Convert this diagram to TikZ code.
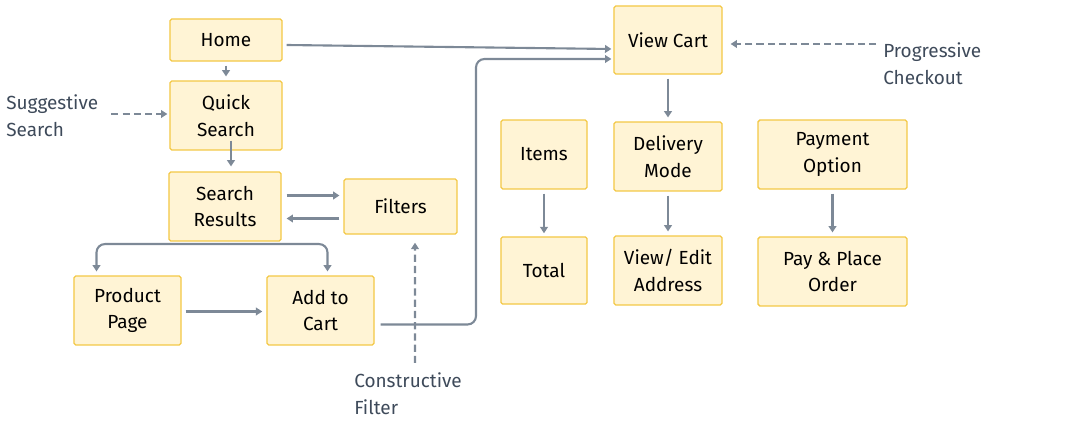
\documentclass[tikz,border=0pt]{standalone}
\usepackage{fontspec}
\setmainfont{Fira Sans}
\usetikzlibrary{arrows.meta}

\definecolor{boxfill}{HTML}{FFF4D5}
\definecolor{boxline}{HTML}{F3C845}
\definecolor{flowline}{HTML}{7D8997}
\definecolor{notetext}{HTML}{3E4A5A}

\begin{document}
\begin{tikzpicture}[
  x=0.025cm, y=-0.025cm,
  font=\fontsize{13.5}{19}\selectfont,
  >={Triangle[length=4.5pt,width=5.5pt]},
  % screen boxes
  screen/.style={
    draw=boxline, fill=boxfill, line width=0.9pt,
    rounded corners=1.2pt, align=center, inner sep=0pt
  },
  flow/.style={->, draw=flowline, line width=1.5pt, rounded corners=6pt},
  hint/.style={flow, dashed, dash pattern=on 5pt off 3pt},
  note/.style={align=left, text=notetext, anchor=west, inner sep=0pt},
]

% fix canvas to reference size
\useasboundingbox (0,0) rectangle (1081,426);

% ---------------------------------------------------------------
% Browse column
% ---------------------------------------------------------------
\node[screen, minimum width=2.8cm, minimum height=1.05cm]
  (home) at (226,40) {Home};
\node[screen, minimum width=2.8cm, minimum height=1.72cm]
  (quick) at (226,115.5) {Quick\\Search};
\node[screen, minimum width=2.8cm, minimum height=1.72cm]
  (results) at (225,206.5) {Search\\Results};
\node[screen, minimum width=2.82cm, minimum height=1.38cm]
  (filters) at (400.5,206.5) {Filters};
\node[screen, minimum width=2.68cm, minimum height=1.72cm]
  (product) at (127.5,310.5) {Product\\Page};
\node[screen, minimum width=2.68cm, minimum height=1.72cm]
  (addcart) at (320.5,310.5) {Add to\\Cart};

% ---------------------------------------------------------------
% Checkout columns
% ---------------------------------------------------------------
\node[screen, minimum width=2.7cm, minimum height=1.7cm]
  (viewcart) at (668,40) {View Cart};
\node[screen, minimum width=2.15cm, minimum height=1.72cm]
  (items) at (544,154.5) {Items};
\node[screen, minimum width=2.15cm, minimum height=1.68cm]
  (total) at (544,270.5) {Total};
\node[screen, minimum width=2.7cm, minimum height=1.72cm]
  (delivery) at (668,156.5) {Delivery\\Mode};
\node[screen, minimum width=2.7cm, minimum height=1.72cm]
  (address) at (668,270.5) {View/ Edit\\Address};
\node[screen, minimum width=3.72cm, minimum height=1.72cm]
  (payment) at (832.5,154.5) {Payment\\Option};
\node[screen, minimum width=3.72cm, minimum height=1.72cm]
  (placeorder) at (832.5,271.5) {Pay \& Place\\Order};

% --- side notes ---
\node[note] (suggest) at (6,116) {Suggestive\\Search};
\node[note] (progress) at (883,64) {Progressive\\Checkout};
\node[note] (construct) at (354,394) {Constructive\\Filter};
\coordinate (constructtip) at (415,363);

% ---------------------------------------------------------------
% Connectors (shifts in picture units)
% ---------------------------------------------------------------
\draw[flow] ([shift={(4,5)}]home.east) -- ([shift={(-2,9)}]viewcart.west);
\draw[flow] ([shift={(0,4)}]home.south) -- ([shift={(0,-4)}]quick.north);
\draw[flow] ([shift={(5,-10)}]quick.south) -- ([shift={(6,-5)}]results.north);
\draw[flow] ([shift={(5,-11)}]results.east) -- ([shift={(-4,-11)}]filters.west);
\draw[flow] ([shift={(-4,12)}]filters.west) -- ([shift={(5,12)}]results.east);
\draw[flow] ([shift={(3,2.5)}]results.south) -| ([shift={(-31,-4)}]product.north);
\draw[flow] ([shift={(3,2.5)}]results.south) -| ([shift={(7,-4)}]addcart.north);
\draw[flow] ([shift={(4,1)}]product.east) -- ([shift={(-4,1)}]addcart.west);
\draw[flow] ([shift={(6,14)}]addcart.east) -| (476,59) -- ([shift={(-2,19)}]viewcart.west);
\draw[flow] ([shift={(0,4)}]viewcart.south) -- ([shift={(0,-4)}]delivery.north);
\draw[flow] ([shift={(0,4)}]items.south) -- ([shift={(0,-3)}]total.north);
\draw[flow] ([shift={(0,4)}]delivery.south) -- ([shift={(0,-4)}]address.north);
\draw[flow] ([shift={(0,4)}]payment.south) -- ([shift={(0,-4)}]placeorder.north);

% --- dashed hints ---
\draw[hint] ([shift={(13,-2)}]suggest.east) -- ([shift={(-2,-1.5)}]quick.west);
\draw[hint] ([shift={(-7,-20)}]progress.west) -- ([shift={(8,4)}]viewcart.east);
\draw[hint] (constructtip) -- ([shift={(14.5,8)}]filters.south);

\end{tikzpicture}
\end{document}
